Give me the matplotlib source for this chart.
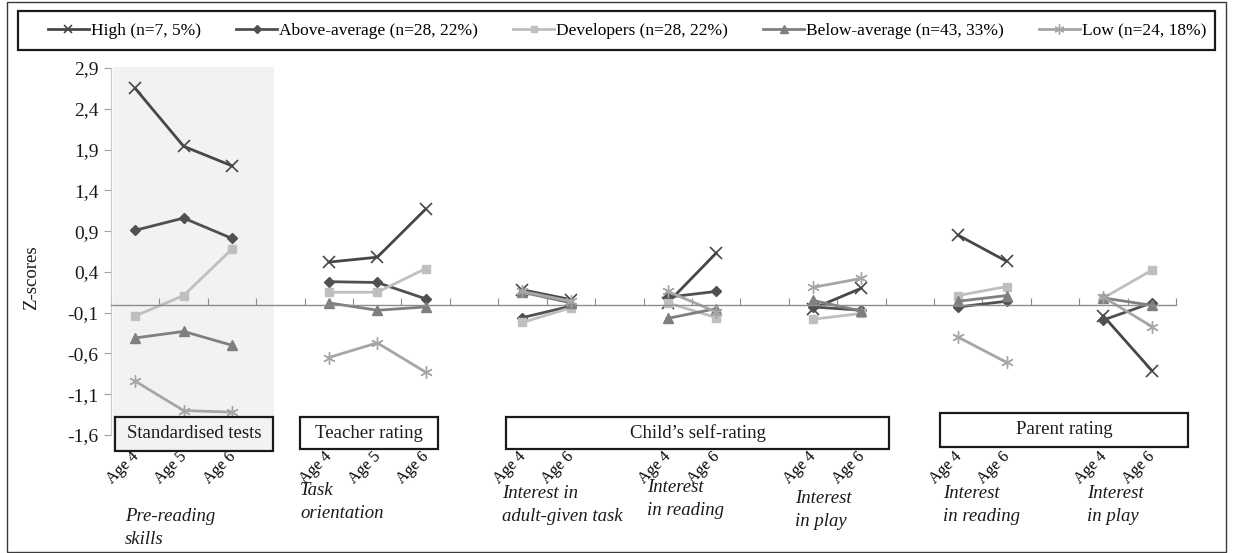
import numpy as np
import matplotlib
matplotlib.use("Agg")
import matplotlib.pyplot as plt
from matplotlib.patches import Rectangle
from matplotlib.ticker import FixedLocator, FuncFormatter
from matplotlib.transforms import ScaledTranslation

nan = np.nan
# ---- data -------------------------------------------------------------
tick_labels = ["Age 4", "Age 5", "Age 6", "",
               "Age 4", "Age 5", "Age 6", "",
               "Age 4", "Age 6", "",
               "Age 4", "Age 6", "",
               "Age 4", "Age 6", "",
               "Age 4", "Age 6", "",
               "Age 4", "Age 6"]

high = [2.65, 1.94, 1.70, nan, 0.52, 0.58, 1.17, nan, 0.18, 0.06, nan,
        0.02, 0.63, nan, -0.05, 0.20, nan, 0.85, 0.53, nan, -0.14, -0.81]
above_average = [0.91, 1.06, 0.81, nan, 0.28, 0.27, 0.07, nan, -0.16, -0.02, nan,
                 0.09, 0.16, nan, -0.03, -0.07, nan, -0.03, 0.04, nan, -0.19, 0.02]
developers = [-0.14, 0.11, 0.68, nan, 0.15, 0.15, 0.44, nan, -0.22, -0.04, nan,
              0.02, -0.16, nan, -0.18, -0.11, nan, 0.11, 0.22, nan, 0.08, 0.42]
below_average = [-0.41, -0.33, -0.50, nan, 0.02, -0.07, -0.03, nan, 0.15, 0.02, nan,
                 -0.17, -0.05, nan, 0.05, -0.08, nan, 0.04, 0.11, nan, 0.08, -0.01]
low = [-0.94, -1.30, -1.32, nan, -0.65, -0.47, -0.83, nan, 0.16, 0.04, nan,
       0.16, -0.09, nan, 0.21, 0.32, nan, -0.40, -0.71, nan, 0.09, -0.27]

series_names = ["High (n=7, 5%)", "Above-average (n=28, 22%)", "Developers (n=28, 22%)",
                "Below-average (n=43, 33%)", "Low (n=24, 18%)"]
group_boxes = ["Standardised tests", "Teacher rating", "Child\u2019s self-rating", "Parent rating"]
measure_labels = ["Pre-reading\nskills", "Task\norientation", "Interest in\nadult-given task",
                  "Interest\nin reading", "Interest\nin play", "Interest\nin reading", "Interest\nin play"]
y_ticks = [-1.6, -1.1, -0.6, -0.1, 0.4, 0.9, 1.4, 1.9, 2.4, 2.9]

# ---- style ------------------------------------------------------------
SERIF = ["Liberation Serif", "DejaVu Serif"]
plt.rcParams["font.family"] = SERIF

W, H = 1233, 553
fig = plt.figure(figsize=(W / 100, H / 100), dpi=100)


def fx(x):
    return x / W


def fy(y):
    return 1 - y / H


def frect(x0, y0, x1, y1, **kw):
    r = Rectangle((fx(x0), fy(y1)), fx(x1) - fx(x0), fy(y0) - fy(y1),
                  transform=fig.transFigure, **kw)
    fig.add_artist(r)
    return r


# figure frame
frect(7, 2, 1226, 552, fill=False, edgecolor="#3a3a3a", lw=1.0, zorder=0)

# shaded region for standardised tests (behind axes)
frect(113, 67, 274, 452, facecolor="#f2f2f2", edgecolor="none", zorder=0)

ax = fig.add_axes([fx(111), fy(435), fx(1176) - fx(111), fy(68) - fy(435)])
ax.patch.set_alpha(0)
ax.set_zorder(1)

x = np.arange(len(tick_labels))
styles = [
    dict(color="#474747", marker="x", ms=8, mew=1.2),
    dict(color="#505050", marker="D", ms=5),
    dict(color="#bfbfbf", marker="s", ms=6),
    dict(color="#7f7f7f", marker="^", ms=7),
    dict(color="#a6a6a6", marker=(6, 2, 0), ms=9, mew=1.0),
]
for vals, name, st in zip([high, above_average, developers, below_average, low], series_names, styles):
    ax.plot(x, vals, lw=2.0, label=name, clip_on=False, **st)

ax.set_xlim(-0.5, len(tick_labels) - 0.5)
ax.set_ylim(-1.6, 2.9)

# y axis
ax.yaxis.set_major_locator(FixedLocator(y_ticks))
ax.yaxis.set_major_formatter(FuncFormatter(lambda v, p: f"{v:.1f}".replace(".", ",")))
ax.tick_params(axis="y", direction="out", length=5, color="#a0a0a0", labelsize=14,
               labelcolor="#1a1a1a", pad=4)
ax.spines["left"].set_color("#c8c8c8")
ax.spines["left"].set_linewidth(0.8)
ax.spines["top"].set_visible(False)
ax.spines["right"].set_visible(False)
ax.set_ylabel("Z-scores", fontsize=13.5, color="#1a1a1a")
ax.yaxis.set_label_coords(-0.067, 0.43)

# category axis crossing at zero with boundary ticks
ax.spines["bottom"].set_position(("data", 0))
ax.spines["bottom"].set_color("#8c8c8c")
ax.spines["bottom"].set_linewidth(1.0)
ax.set_xticks(np.arange(len(tick_labels) + 1) - 0.5)
ax.tick_params(axis="x", direction="in", length=5, color="#8c8c8c", labelbottom=False)

# age labels under the chart
sec = ax.secondary_xaxis("bottom")
sec.set_xticks(x)
sec.set_xticklabels(tick_labels, rotation=45, ha="right", va="center",
                    rotation_mode="anchor", fontsize=11.5)
sec.tick_params(length=0, pad=17)
sec.spines["bottom"].set_visible(False)
shift = ScaledTranslation(1 / 100, 4 / 100, fig.dpi_scale_trans)
for lab in sec.get_xticklabels():
    lab.set_transform(lab.get_transform() + shift)

# group boxes
box_px = [(115, 417, 273, 451, "#f2f2f2"), (300, 417, 438, 449, "white"),
          (506, 417, 889, 449, "white"), (940, 413, 1188, 447, "white")]
for (x0, y0, x1, y1, fc), lab in zip(box_px, group_boxes):
    frect(x0, y0, x1, y1, facecolor=fc, edgecolor="#1a1a1a", lw=1.6, zorder=5)
    fig.text(fx((x0 + x1) / 2), fy((y0 + y1) / 2), lab, ha="center", va="center",
             fontsize=13.5, color="#1a1a1a", zorder=6)

# measure labels (italic)
meas_px = [(125, 508), (300, 482), (502, 485), (647, 479), (795, 490), (943, 485), (1087, 485)]
for (px_, py_), lab in zip(meas_px, measure_labels):
    fig.text(fx(px_), fy(py_), lab, ha="left", va="top", fontsize=13.5, style="italic",
             linespacing=1.45, color="#1a1a1a")

# legend
frect(18, 11, 1215, 50, fill=False, edgecolor="#1a1a1a", lw=1.6, zorder=5)
handles, labels = ax.get_legend_handles_labels()
fig.legend(handles, labels, loc="center", bbox_to_anchor=(fx(627), fy(31)), ncol=5,
           frameon=False, fontsize=12.5, handlelength=2.4, handletextpad=0.1,
           columnspacing=2.0, borderaxespad=0, markerscale=0.8)

fig.savefig("out.png", dpi=100)
